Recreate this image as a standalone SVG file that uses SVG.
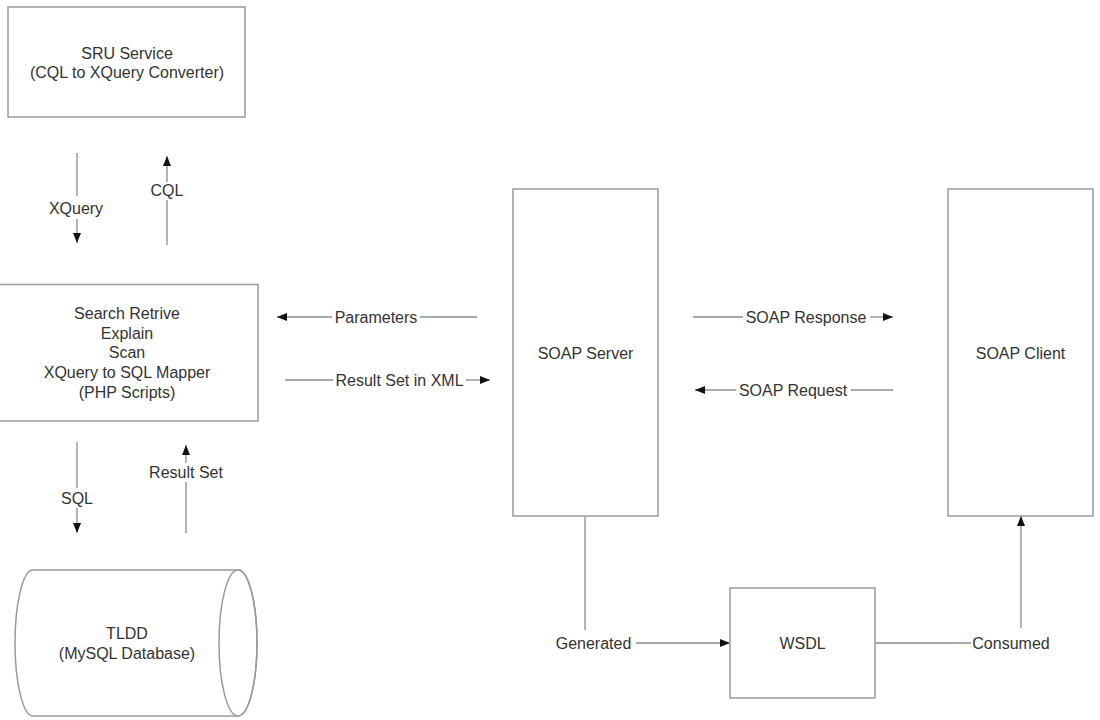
<svg xmlns="http://www.w3.org/2000/svg" width="1100" height="720" viewBox="0 0 1100 720">
<defs>
<style>
.box{fill:#fff;stroke:#9a9a9a;stroke-width:1.5}
.ln{fill:none;stroke:#8c8c8c;stroke-width:1.3}
.t{font-family:"Liberation Sans",Arial,sans-serif;font-size:16px;fill:#333;text-anchor:middle}
</style>
<marker id="ah" viewBox="0 0 10 8" refX="10" refY="4" markerWidth="10" markerHeight="8" markerUnits="userSpaceOnUse" orient="auto">
<path d="M0,0 L10,4 L0,8 z" fill="#111"/>
</marker>
</defs>
<rect width="1100" height="720" fill="#fff"/>
<g id="connectors">
<line class="ln" x1="77" y1="153" x2="77" y2="196"/>
<line class="ln" x1="77" y1="219" x2="77" y2="243" marker-end="url(#ah)"/>
<text class="t" x="76" y="214">XQuery</text>
<line class="ln" x1="167" y1="182" x2="167" y2="156" marker-end="url(#ah)"/>
<line class="ln" x1="167" y1="200" x2="167" y2="245"/>
<text class="t" x="167" y="196">CQL</text>
<line class="ln" x1="332" y1="317" x2="277" y2="317" marker-end="url(#ah)"/>
<line class="ln" x1="420" y1="317" x2="477" y2="317"/>
<text class="t" x="376" y="323">Parameters</text>
<line class="ln" x1="285" y1="380" x2="333" y2="380"/>
<line class="ln" x1="466" y1="380" x2="490" y2="380" marker-end="url(#ah)"/>
<text class="t" x="399.5" y="386">Result Set in XML</text>
<line class="ln" x1="77" y1="442" x2="77" y2="488"/>
<line class="ln" x1="77" y1="508" x2="77" y2="533" marker-end="url(#ah)"/>
<text class="t" x="77" y="504">SQL</text>
<line class="ln" x1="186" y1="463" x2="186" y2="445" marker-end="url(#ah)"/>
<line class="ln" x1="186" y1="482" x2="186" y2="533"/>
<text class="t" x="186" y="478">Result Set</text>
<line class="ln" x1="693" y1="317" x2="743" y2="317"/>
<line class="ln" x1="870" y1="317" x2="893" y2="317" marker-end="url(#ah)"/>
<text class="t" x="806" y="323">SOAP Response</text>
<line class="ln" x1="736" y1="390" x2="695" y2="390" marker-end="url(#ah)"/>
<line class="ln" x1="851" y1="390" x2="893" y2="390"/>
<text class="t" x="793" y="396">SOAP Request</text>
<line class="ln" x1="585" y1="516" x2="585" y2="630"/>
<line class="ln" x1="636" y1="643" x2="730" y2="643" marker-end="url(#ah)"/>
<text class="t" x="593.5" y="649">Generated</text>
<line class="ln" x1="875" y1="643" x2="971" y2="643"/>
<line class="ln" x1="1021" y1="628" x2="1021" y2="516" marker-end="url(#ah)"/>
<text class="t" x="1011" y="649">Consumed</text>
</g>
<g id="sru">
<rect class="box" x="8" y="7" width="237" height="110"/>
<text class="t" x="127" y="59">SRU Service</text>
<text class="t" x="127" y="78">(CQL to XQuery Converter)</text>
</g>
<g id="php">
<rect class="box" x="-1" y="284.5" width="259" height="136.5"/>
<text class="t" x="127" y="319">Search Retrive</text>
<text class="t" x="127" y="339">Explain</text>
<text class="t" x="127" y="358">Scan</text>
<text class="t" x="127" y="378">XQuery to SQL Mapper</text>
<text class="t" x="127" y="398">(PHP Scripts)</text>
</g>
<g id="tldd">
<path class="box" d="M33,570 L238,570 A19,73 0 0 1 238,716 L33,716 A18,73 0 0 1 33,570 Z"/>
<ellipse cx="238" cy="643" rx="19" ry="73" fill="none" stroke="#9a9a9a" stroke-width="1.5"/>
<text class="t" x="127" y="639">TLDD</text>
<text class="t" x="127" y="659">(MySQL Database)</text>
</g>
<g id="soap-server">
<rect class="box" x="513" y="189" width="145" height="327"/>
<text class="t" x="585.5" y="359">SOAP Server</text>
</g>
<g id="soap-client">
<rect class="box" x="948" y="189" width="145" height="327"/>
<text class="t" x="1020.5" y="359">SOAP Client</text>
</g>
<g id="wsdl">
<rect class="box" x="730" y="588" width="145" height="110"/>
<text class="t" x="802.5" y="649">WSDL</text>
</g>
</svg>
